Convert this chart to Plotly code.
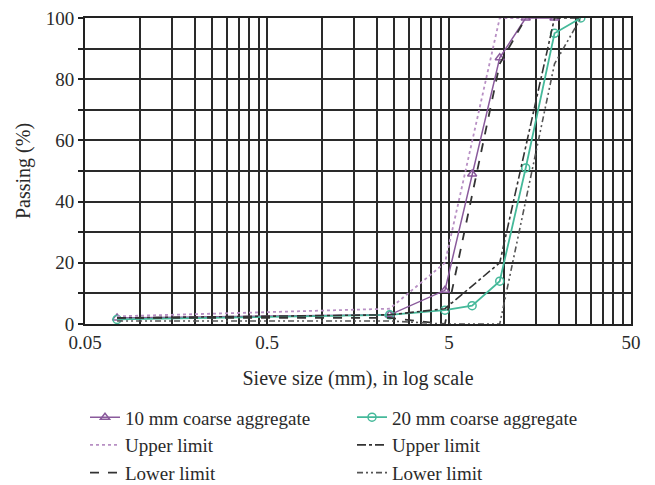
import math
import plotly.graph_objects as go

# ---- data ----
sieve_10 = [0.075, 2.36, 4.75, 6.7, 9.5, 13.2, 19]
pass_10 = [2, 3, 11, 49, 87, 100, 100]

sieve_20 = [0.075, 2.36, 4.75, 6.7, 9.5, 13.2, 19, 26.5]
pass_20 = [1.5, 3, 4.5, 6, 14, 51, 95, 100]

up10_x = [0.075, 2.36, 4.75, 9.5, 13.2]
up10_y = [2.5, 5, 20, 100, 100]
lo10_x = [0.075, 2.36, 4.75, 9.5, 13.2]
lo10_y = [2, 2, 0, 85, 100]

up20_x = [0.075, 2.36, 4.75, 9.5, 19, 26.5]
up20_y = [2, 3, 5, 20, 100, 100]
lo20_x = [0.075, 2.36, 4.75, 9.5, 19, 26.5]
lo20_y = [1, 1, 0, 0, 85, 100]

x_grid = [0.05, 0.1, 0.15, 0.2, 0.25, 0.3, 0.35, 0.4, 0.45,
          0.5, 1, 1.5, 2, 2.5, 3, 3.5, 4, 4.5,
          5, 10, 15, 20, 25, 30, 35, 40, 45, 50]
x_labels = {0.05: "0.05", 0.5: "0.5", 5: "5", 50: "50"}
y_grid = [0, 10, 20, 30, 40, 50, 60, 70, 80, 90, 100]
y_labels = {0: "0", 20: "20", 40: "40", 60: "60", 80: "80", 100: "100"}

PURPLE = "#8a5a9c"
GREEN = "#45b99a"
DARK = "#333333"
FONT = "Liberation Serif"
TXT = "#2a2a2a"

fig = go.Figure()
fig.add_trace(go.Scatter(x=sieve_10, y=pass_10, mode="lines+markers",
                         name="10 mm coarse aggregate",
                         line=dict(color=PURPLE, width=1.5),
                         marker=dict(symbol="triangle-up-open", size=8, color=PURPLE,
                                     line=dict(width=1.5))))
fig.add_trace(go.Scatter(x=sieve_20, y=pass_20, mode="lines+markers",
                         name="20 mm coarse aggregate",
                         line=dict(color=GREEN, width=1.8),
                         marker=dict(symbol="circle-open", size=8, color=GREEN,
                                     line=dict(width=1.5))))
fig.add_trace(go.Scatter(x=up10_x, y=up10_y, mode="lines", name="Upper limit",
                         line=dict(color="#b890c4", width=1.8, dash="dot")))
fig.add_trace(go.Scatter(x=up20_x, y=up20_y, mode="lines", name="Upper limit",
                         line=dict(color=DARK, width=1.6, dash="dashdot")))
fig.add_trace(go.Scatter(x=lo10_x, y=lo10_y, mode="lines", name="Lower limit",
                         line=dict(color=DARK, width=1.8, dash="dash")))
fig.add_trace(go.Scatter(x=lo20_x, y=lo20_y, mode="lines", name="Lower limit",
                         line=dict(color="#555555", width=1.6,
                                   dash="6px,3px,2px,3px,2px,3px")))

fig.update_layout(
    width=655, height=485,
    margin=dict(l=77, r=32, t=10, b=169, autoexpand=False),
    paper_bgcolor="white", plot_bgcolor="white",
    font=dict(family=FONT, size=20, color=TXT),
    showlegend=True,
    legend=dict(orientation="h", x=0.0, xanchor="left", y=-0.243, yanchor="top",
                entrywidth=222, entrywidthmode="pixels",
                font=dict(family=FONT, size=19, color=TXT),
                tracegroupgap=0, bgcolor="rgba(0,0,0,0)"),
)

fig.update_xaxes(
    type="log",
    range=[math.log10(0.05), math.log10(50)],
    tickmode="array",
    tickvals=x_grid,
    ticktext=[x_labels.get(v, "") for v in x_grid],
    showgrid=True, gridcolor="#2a2a2a", gridwidth=1.5,
    showline=True, linecolor="#222222", linewidth=2, mirror=True,
    ticks="", zeroline=False, ticklabeloverflow="allow",
    title=dict(text="Sieve size (mm), in log scale", standoff=19,
               font=dict(family=FONT, size=20)),
    tickfont=dict(family=FONT, size=19),
)
fig.update_yaxes(
    range=[0, 100],
    tickmode="array",
    tickvals=y_grid,
    ticktext=[y_labels.get(v, "") for v in y_grid],
    showgrid=True, gridcolor="#2a2a2a", gridwidth=1.5,
    showline=True, linecolor="#222222", linewidth=2, mirror=True,
    ticks="outside", ticklen=5, tickcolor="#222222", tickwidth=1.5,
    zeroline=False, ticklabeloverflow="allow",
    title=dict(text="Passing (%)", standoff=10, font=dict(family=FONT, size=20)),
    tickfont=dict(family=FONT, size=19),
)

fig.write_html("out.html")
